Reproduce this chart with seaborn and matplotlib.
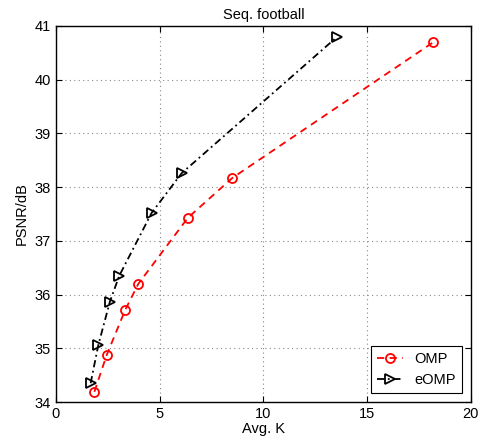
import numpy as np
import pandas as pd
import matplotlib
matplotlib.use("Agg")
import matplotlib.pyplot as plt
import seaborn as sns

# data
omp_k = [1.85, 2.44, 3.33, 3.97, 6.36, 8.5, 18.2]
omp_psnr = [34.19, 34.87, 35.71, 36.2, 37.43, 38.17, 40.7]
eomp_k = [1.67, 2.04, 2.6, 3.05, 4.61, 6.06, 13.53]
eomp_psnr = [34.35, 35.06, 35.87, 36.35, 37.52, 38.26, 40.79]

sns.set_style("ticks")
plt.rcParams['font.family'] = ['Liberation Sans', 'DejaVu Sans']
plt.rcParams.update({"text.color": "black", "axes.labelcolor": "black",
                     "xtick.color": "black", "ytick.color": "black",
                     "axes.edgecolor": "black"})

df_omp = pd.DataFrame({"k": omp_k, "psnr": omp_psnr})
df_eomp = pd.DataFrame({"k": eomp_k, "psnr": eomp_psnr})

fig = plt.figure(figsize=(4.84, 4.45), dpi=100)
ax = fig.add_axes([0.1157, 0.0966, 0.857, 0.845])

sns.lineplot(data=df_omp, x="k", y="psnr", ax=ax, sort=False, color="red",
             linestyle=(0, (4, 3)), linewidth=1.3, marker="o", markersize=6.5,
             markerfacecolor="none", markeredgecolor="red", markeredgewidth=1.3,
             label="OMP")
sns.lineplot(data=df_eomp, x="k", y="psnr", ax=ax, sort=False, color="black",
             linestyle=(0, (4, 2, 1, 2)), linewidth=1.3, marker=">", markersize=6.5,
             markerfacecolor="none", markeredgecolor="black", markeredgewidth=1.3,
             label="eOMP")

ax.set_xlim(0, 20)
ax.set_ylim(34, 41)
ax.set_xticks([0, 5, 10, 15, 20])
ax.set_yticks(np.arange(34, 42, 1))
ax.grid(True, linestyle=(0, (1, 3)), color="#888888", linewidth=0.8)
ax.tick_params(direction="in", top=True, right=True, labelsize=10.5, length=4)
for s in ax.spines.values():
    s.set_linewidth(1.0)
ax.set_xlabel("Avg. K", fontsize=10.5, labelpad=1)
ax.set_ylabel("PSNR/dB", fontsize=10.5, labelpad=4)
ax.set_title("Seq. football", fontsize=10.5, pad=5)
leg = ax.legend(loc="lower right", fontsize=10.5, fancybox=False, edgecolor="black",
                framealpha=1, handlelength=1.8, borderaxespad=0.6)
leg.get_frame().set_linewidth(0.8)

fig.savefig("out.png", dpi=100)
